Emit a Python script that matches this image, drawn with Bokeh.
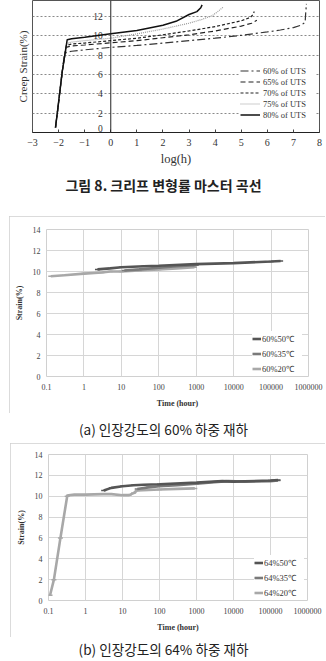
from bokeh.plotting import figure
from bokeh.layouts import column
from bokeh.models import (Legend, LegendItem, FixedTicker, CustomJSTickFormatter, Range1d, Span, Title)
from bokeh.core.properties import value
from bokeh.embed import file_html
from bokeh.resources import INLINE

SERIF = "Liberation Serif"
KR = "Noto Sans CJK KR"

# ---------------- Chart 1 data: creep strain master curves ----------------
m_labels = ["60% of UTS", "65% of UTS", "70% of UTS", "75% of UTS", "80% of UTS"]
m60_x = [-2.12, -2.05, -1.86, -1.78, -1.7, -1.5, -1, 0, 1, 2, 3, 4, 5, 6, 6.5, 7, 7.3, 7.45, 7.47, 7.5]
m60_y = [0.5, 2.0, 6.3, 8.0, 8.3, 8.4, 8.55, 8.8, 9.0, 9.25, 9.5, 9.75, 10.05, 10.4, 10.6, 10.85, 11.1, 11.4, 12.3, 13.3]
m65_x = [-2.12, -2.05, -1.86, -1.72, -1.5, -1, 0, 1, 2, 3, 4, 5, 5.4, 5.6]
m65_y = [0.5, 2.0, 6.3, 8.8, 8.95, 9.05, 9.27, 9.5, 9.8, 10.1, 10.5, 11.0, 11.3, 11.6]
m70_x = [-2.12, -2.05, -1.86, -1.7, -1.5, -1, 0, 1, 2, 3, 4, 5, 5.35, 5.45, 5.5]
m70_y = [0.5, 2.0, 6.3, 9.0, 9.15, 9.25, 9.5, 9.75, 10.1, 10.5, 10.95, 11.55, 11.9, 12.2, 12.5]
m75_x = [-2.12, -2.05, -1.86, -1.69, -1.5, -1, 0, 1, 2, 3, 3.5, 3.9, 4.1, 4.3]
m75_y = [0.5, 2.0, 6.3, 9.2, 9.35, 9.5, 9.75, 10.2, 10.7, 11.3, 11.7, 12.1, 12.5, 12.95]
m80_x = [-2.12, -2.05, -1.86, -1.67, -1.5, -1, 0, 1, 2, 2.5, 3, 3.3, 3.45, 3.5]
m80_y = [0.5, 2.0, 6.3, 9.6, 9.7, 9.85, 10.2, 10.55, 11.1, 11.5, 12.2, 12.5, 12.9, 13.2]
m_xticks = list(range(-3, 9))
m_yticks = [2, 4, 6, 8, 10, 12]
m_yzero = [0]

# ---------------- Chart 2 data: 60% of UTS ----------------
a_labels = ["60%50℃", "60%35℃", "60%20℃"]
a50_t = [2.3, 5, 10, 40, 100, 1000, 10000, 100000, 180000]
a50_y = [10.2, 10.3, 10.4, 10.5, 10.55, 10.7, 10.8, 10.95, 11.0]
a35_t = [12, 30, 100, 300, 1000]
a35_y = [10.1, 10.2, 10.35, 10.5, 10.6]
a20_t = [0.13, 0.3, 1, 3, 5, 10, 30, 100, 300, 900]
a20_y = [9.55, 9.65, 9.8, 9.9, 10.0, 10.0, 10.1, 10.2, 10.3, 10.4]

# ---------------- Chart 3 data: 64% of UTS ----------------
b_labels = ["64%50℃", "64%35℃", "64%20℃"]
b50_t = [3.1, 5, 10, 20, 37, 100, 1000, 5000, 10000, 100000, 160000]
b50_y = [10.55, 10.8, 10.95, 11.05, 11.1, 11.15, 11.3, 11.45, 11.4, 11.5, 11.55]
b35_t = [25, 50, 100, 300, 1000, 3000, 7000, 20000, 100000, 160000]
b35_y = [10.7, 10.85, 10.95, 11.05, 11.2, 11.35, 11.45, 11.4, 11.45, 11.5]
b20_t = [0.11, 0.14, 0.21, 0.32, 0.35, 0.5, 1, 3, 5, 10, 15, 20, 25, 50, 100, 300, 900]
b20_y = [0.5, 2.0, 6.0, 10.0, 10.1, 10.15, 10.15, 10.2, 10.2, 10.1, 10.1, 10.3, 10.55, 10.6, 10.65, 10.7, 10.75]

time_ticks = [0.1, 1, 10, 100, 1000, 10000, 100000, 1000000]
strain_ticks = [0, 2, 4, 6, 8, 10, 12, 14]

captions = ["그림 8. 크리프 변형률 마스터 곡선",
            "(a) 인장강도의 60% 하중 재하",
            "(b) 인장강도의 64% 하중 재하"]


def caption_fig(text, height, yc, size, style):
    c = figure(width=326, height=height, x_range=Range1d(0, 1), y_range=Range1d(0, 1),
               output_backend="svg", toolbar_location=None, title=None, frame_align=False,
               x_axis_location=None, y_axis_location=None, min_border=0)
    c.grid.visible = False
    c.outline_line_color = None
    c.text(x=[0.5], y=[yc], text=[text], text_align="center", text_baseline="middle",
           text_font=value(KR), text_font_size=value(size), text_font_style=style,
           text_color="#222222")
    return c


# =================== Figure 1 ===================
p1 = figure(width=326, height=170, x_range=Range1d(-3, 8), y_range=Range1d(0, 13.65),
            output_backend="svg", toolbar_location=None, title=None, y_axis_location=None,
            frame_align=False,
            min_border_left=32, min_border_right=7, min_border_top=0, min_border_bottom=38)
p1.outline_line_color = "#555555"
p1.xgrid.visible = False
p1.ygrid.ticker = FixedTicker(ticks=m_yticks)
p1.ygrid.grid_line_color = "#8a8a8a"
p1.ygrid.grid_line_dash = "2 2"

xa = p1.xaxis[0]
xa.ticker = FixedTicker(ticks=m_xticks)
xa.major_tick_in = 3
xa.major_tick_out = 0
xa.minor_tick_line_color = None
xa.axis_line_color = "#222222"
xa.major_tick_line_color = "#444444"
xa.major_label_text_font = SERIF
xa.major_label_text_font_size = "10px"
xa.major_label_text_color = "#333333"
xa.major_label_standoff = 6
xa.axis_label = "log(h)"
xa.axis_label_text_font = SERIF
xa.axis_label_text_font_style = "normal"
xa.axis_label_text_font_size = "12.5px"
xa.axis_label_text_color = "#333333"
xa.axis_label_standoff = 3

p1.add_layout(Title(text="Creep Strain(%)", align="center", text_font=SERIF,
                    text_font_size="11px", text_font_style="normal", text_color="#333333",
                    standoff=8), "left")

# vertical axis line at log(h) = 0 with its tick labels
p1.add_layout(Span(location=0, dimension="height", line_color="#222222", line_width=1))
p1.text(x=[0] * len(m_yticks), y=m_yticks, text=[str(v) for v in m_yticks],
        text_align="right", text_baseline="middle", x_offset=-8,
        text_font=value(SERIF), text_font_size=value("9.5px"), text_color="#333333")
p1.text(x=[0] * len(m_yzero), y=m_yzero, text=[str(v) for v in m_yzero],
        text_align="right", text_baseline="bottom", x_offset=-8, y_offset=-1,
        text_font=value(SERIF), text_font_size=value("9.5px"), text_color="#333333")

styles1 = [
    (m60_x, m60_y, "#333333", "8 3 2 3", 1.2),
    (m65_x, m65_y, "#222222", "5 3", 1.2),
    (m70_x, m70_y, "#222222", "3 2", 1.2),
    (m75_x, m75_y, "#9a9a9a", "1 1", 1.2),
    (m80_x, m80_y, "#111111", "solid", 1.5),
]
items1 = []
for (xs, ys, c, d, w), lab in zip(styles1, m_labels):
    r = p1.line(xs, ys, line_color=c, line_dash=d, line_width=w)
    items1.append(LegendItem(label=lab, renderers=[r]))

leg1 = Legend(items=items1, location=(208, 12), padding=2, margin=0, spacing=0,
              label_height=11, glyph_height=11, glyph_width=20, label_standoff=3, label_width=52,
              label_text_font=SERIF, label_text_font_size="8.5px", label_text_color="#333333",
              background_fill_color="white", background_fill_alpha=1.0, border_line_color=None)
p1.add_layout(leg1, "center")

c1 = caption_fig(captions[0], 28, 0.5, "14px", "bold")


# =================== Figures 2 & 3 (Excel style) ===================
def excel_chart(width, height, left, right, top, bottom, margin, series, labels, legend_loc):
    p = figure(width=width, height=height, x_axis_type="log", x_range=Range1d(0.1, 1000000),
               y_range=Range1d(0, 14), output_backend="svg", toolbar_location=None, title=None,
               frame_align=False,
               min_border_left=left, min_border_right=right, min_border_top=top,
               min_border_bottom=bottom, margin=margin,
               styles={"outline": "1px solid #cfcfcf", "outline-offset": "-1px"})
    p.outline_line_color = "#d0d0d0"
    p.xgrid.ticker = FixedTicker(ticks=time_ticks)
    p.ygrid.ticker = FixedTicker(ticks=strain_ticks)
    for g in (p.xgrid[0], p.ygrid[0]):
        g.grid_line_color = "#d6d6d6"
        g.grid_line_width = 1
    p.xgrid.minor_grid_line_color = None

    xa = p.xaxis[0]
    xa.ticker = FixedTicker(ticks=time_ticks)
    xa.formatter = CustomJSTickFormatter(code="return tick < 1 ? tick.toFixed(1) : tick.toFixed(0);")
    ya = p.yaxis[0]
    ya.ticker = FixedTicker(ticks=strain_ticks)
    for ax in (xa, ya):
        ax.axis_line_color = None
        ax.major_tick_line_color = None
        ax.minor_tick_line_color = None
        ax.major_tick_in = 0
        ax.major_tick_out = 0
        ax.major_label_text_font = SERIF
        ax.major_label_text_font_size = "8px"
        ax.major_label_text_color = "#444444"
        ax.axis_label_text_font = SERIF
        ax.axis_label_text_font_style = "bold"
        ax.axis_label_text_font_size = "8px"
        ax.axis_label_text_color = "#333333"
    xa.major_label_standoff = 7
    xa.axis_label = "Time (hour)"
    xa.axis_label_standoff = 6
    ya.major_label_standoff = 6
    ya.axis_label = "Strain(%)"
    ya.axis_label_standoff = 6

    rends = []
    for ts, ys, c in series:
        ln = p.line(ts, ys, line_color=c, line_width=2.6)
        mk = p.scatter(ts, ys, marker="dash", size=5, line_color=c, line_width=1.5)
        rends.append([ln, mk])
    # series drawn 20, 35, 50; legend listed 50, 35, 20
    leg_items = [LegendItem(label=lab, renderers=rs) for lab, rs in zip(labels, reversed(rends))]
    leg = Legend(items=leg_items, location=legend_loc, padding=2, margin=0, spacing=0,
                 label_height=15, glyph_height=15, glyph_width=9, label_standoff=1, label_width=40,
                 label_text_font=SERIF, label_text_font_size="8.5px", label_text_color="#333333",
                 background_fill_color="white", background_fill_alpha=1.0, border_line_color=None)
    p.add_layout(leg, "center")
    return p


p2 = excel_chart(316, 197, 37, 17, 13, 37, (18, 1, 0, 9),
                 [(a20_t, a20_y, "#a8a8a8"), (a35_t, a35_y, "#7a7a7a"), (a50_t, a50_y, "#555555")],
                 a_labels, (206, 0))
c2 = caption_fig(captions[1], 30, 0.5, "13.6px", "normal")

p3 = excel_chart(315, 194, 38, 18, 11, 37, (0, 1, 0, 10),
                 [(b20_t, b20_y, "#a8a8a8"), (b35_t, b35_y, "#7a7a7a"), (b50_t, b50_y, "#555555")],
                 b_labels, (206, 0))
c3 = caption_fig(captions[2], 24, 0.54, "13.6px", "normal")

layout = column(p1, c1, p2, c2, p3, c3, spacing=0)
open("out.html", "w").write(file_html(layout, INLINE))
